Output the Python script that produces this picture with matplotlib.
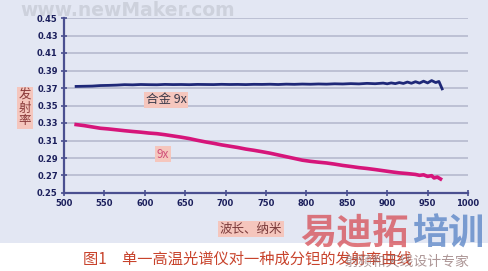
import matplotlib
matplotlib.use("Agg")
import matplotlib.pyplot as plt
from matplotlib.patches import Rectangle

plt.rcParams['font.family'] = ['Noto Sans CJK SC', 'DejaVu Sans']

# ---- data ----
x_ticks = [500, 550, 600, 650, 700, 750, 800, 850, 900, 950, 1000]
y_ticks = [0.25, 0.27, 0.29, 0.31, 0.33, 0.35, 0.37, 0.39, 0.41, 0.43, 0.45]
y_tick_labels = ["0.25", "0.27", "0.29", "0.31", "0.33", "0.35", "0.37", "0.39", "0.41", "0.43", "0.45"]

alloy_nm = [515, 525, 535, 545, 555, 565, 575, 585, 595, 605, 615, 625, 635, 645,
            655, 665, 675, 685, 695, 705, 715, 725, 735, 745, 755, 765, 775, 785,
            795, 805, 815, 825, 835, 845, 855, 865, 875, 885, 895, 900, 905, 910,
            915, 920, 925, 930, 935, 940, 945, 950, 955, 960, 964, 968]
alloy_val = [0.3718, 0.3720, 0.3722, 0.3728, 0.3730, 0.3733, 0.3738, 0.3736, 0.3740,
             0.3738, 0.3737, 0.3741, 0.3739, 0.3740, 0.3738, 0.3741, 0.3740, 0.3739,
             0.3742, 0.3740, 0.3741, 0.3739, 0.3742, 0.3741, 0.3743, 0.3740, 0.3744,
             0.3742, 0.3745, 0.3743, 0.3746, 0.3744, 0.3748, 0.3746, 0.3750, 0.3747,
             0.3753, 0.3749, 0.3756, 0.3748, 0.3758, 0.3750, 0.3762, 0.3752, 0.3768,
             0.3754, 0.3772, 0.3756, 0.3778, 0.3758, 0.3785, 0.3762, 0.3775, 0.3690]

pure_nm = [515, 525, 535, 545, 555, 565, 575, 585, 595, 605, 615, 625, 635, 645,
           655, 665, 675, 685, 695, 705, 715, 725, 735, 745, 755, 765, 775, 785,
           795, 805, 815, 825, 835, 845, 855, 865, 875, 885, 895, 905, 915, 925,
           935, 940, 945, 950, 955, 958, 962, 966]
pure_val = [0.3282, 0.3270, 0.3255, 0.3240, 0.3232, 0.3222, 0.3212, 0.3203, 0.3195,
            0.3185, 0.3178, 0.3166, 0.3152, 0.3138, 0.3122, 0.3102, 0.3084, 0.3068,
            0.3050, 0.3035, 0.3020, 0.3002, 0.2988, 0.2972, 0.2955, 0.2935, 0.2915,
            0.2895, 0.2875, 0.2862, 0.2852, 0.2843, 0.2830, 0.2815, 0.2803, 0.2790,
            0.2780, 0.2768, 0.2755, 0.2742, 0.2730, 0.2722, 0.2712, 0.2702, 0.2708,
            0.2690, 0.2698, 0.2672, 0.2682, 0.2660]

alloy_label = "合金 9x"
pure_label = "9x"
y_label = "发\n射\n率"
x_label = "波长、纳米"
caption = "图1　单一高温光谱仪对一种成分钽的发射率曲线"

# ---- figure ----
W, H = 488, 271
fig = plt.figure(figsize=(W / 100, H / 100), dpi=100)
fig.patch.set_facecolor("white")
bg = Rectangle((0, 1 - 243 / H), 1, 243 / H, transform=fig.transFigure,
               facecolor="#e3e7f3", edgecolor="none", zorder=-10)
fig.add_artist(bg)

ax = fig.add_axes([64 / W, 1 - 193 / H, (468 - 64) / W, (193 - 18) / H])
ax.set_facecolor("none")
ax.set_xlim(500, 1000)
ax.set_ylim(0.25, 0.45)

axis_col = "#4b5090"
for s in ["top", "right"]:
    ax.spines[s].set_visible(False)
for s in ["left", "bottom"]:
    ax.spines[s].set_color(axis_col)
    ax.spines[s].set_linewidth(1.6)

ax.set_xticks(x_ticks)
ax.set_xticklabels([str(v) for v in x_ticks])
ax.set_yticks(y_ticks)
ax.set_yticklabels(y_tick_labels)
ax.tick_params(axis="both", direction="inout", length=5, width=1.2, color=axis_col,
               labelsize=6, labelcolor="#1b1f5c", pad=2)
for lab in ax.get_xticklabels() + ax.get_yticklabels():
    lab.set_fontweight("bold")
    lab.set_family("DejaVu Sans")

ax.grid(axis="y", color="#bcc0d4", linewidth=1.4)
ax.set_axisbelow(True)

ax.plot(alloy_nm, alloy_val, color="#1e2878", linewidth=2.0, zorder=3)
ax.plot(pure_nm, pure_val, color="#d6157a", linewidth=2.6, zorder=3)

box = dict(boxstyle="square,pad=0.12", facecolor="#f5c6bd", edgecolor="none")
fig.text(166 / W, 1 - 100 / H, alloy_label, fontsize=9, color="#3a3a4a",
         ha="center", va="center", bbox=box)
fig.text(163 / W, 1 - 154 / H, pure_label, fontsize=8.5, color="#d0507a",
         ha="center", va="center", bbox=box)
fig.text(25 / W, 1 - 108 / H, y_label, fontsize=9, color="#8a3a3a",
         ha="center", va="center", linespacing=1.0, bbox=box)
fig.text(251 / W, 1 - 229 / H, x_label, fontsize=9, color="#7a3a3a",
         ha="center", va="center", bbox=box)

fig.text(83 / W, 1 - 259 / H, caption, fontsize=11, color="#c8432c",
         ha="left", va="center")

# watermarks (present in the reference image)
fig.text(20 / W, 1 - 11 / H, "www.newMaker.com", fontsize=13.5, fontweight="bold",
         color="#cdd1dc", ha="left", va="center", family="DejaVu Sans", zorder=-5)
fig.text(300 / W, 1 - 234 / H, "易迪拓", fontsize=26, fontweight="bold",
         color="#d7565e", alpha=0.8, ha="left", va="center", zorder=6)
fig.text(412 / W, 1 - 234 / H, "培训", fontsize=26, fontweight="bold",
         color="#5f88c8", alpha=0.8, ha="left", va="center", zorder=6)
fig.text(345 / W, 1 - 262 / H, "射频和天线设计专家", fontsize=10,
         color="#8a6a6a", alpha=0.7, ha="left", va="center", zorder=6)

fig.savefig("out.png", dpi=100)
